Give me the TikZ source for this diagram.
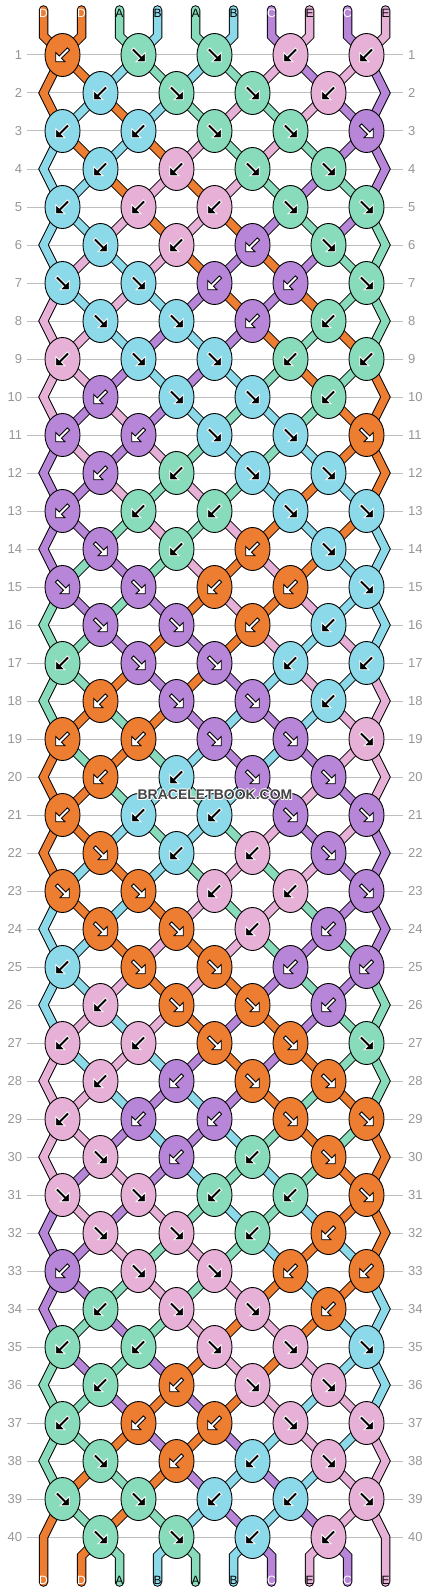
\documentclass[tikz,border=0pt]{standalone}
\usepackage{fontspec}
\setmainfont{Liberation Sans}
\usetikzlibrary{shapes.geometric,positioning}

\definecolor{colD}{RGB}{237,125,49}
\definecolor{colA}{RGB}{136,220,187}
\definecolor{colB}{RGB}{140,217,234}
\definecolor{colC}{RGB}{184,134,216}
\definecolor{colE}{RGB}{231,176,214}
\definecolor{rowgray}{RGB}{190,190,190}
\definecolor{numgray}{RGB}{150,150,150}
\definecolor{wmgray}{RGB}{68,68,68}

\tikzset{
  knot/.style={ellipse, draw=black, line width=0.9pt, minimum width=35pt, minimum height=43pt, inner sep=0pt},
  thread/.style={draw=black, line width=1pt, double=#1, double distance=7.5pt, line cap=round, line join=miter},
  arrowbody/.style={line width=0.8pt, line join=miter},
  arrD/.style={arrowbody, fill=white, draw=black},
  arrC/.style={arrowbody, fill=white, draw=black},
  arrA/.style={arrowbody, fill=black, draw=white},
  arrB/.style={arrowbody, fill=black, draw=white},
  arrE/.style={arrowbody, fill=black, draw=white},
  dirL/.style={rotate=-135},
  dirR/.style={rotate=-45},
  rowline/.style={draw=rowgray, line width=1pt},
  rownum/.style={text=numgray, font=\fontsize{13}{13}\selectfont, inner sep=0pt},
  lbl/.style={font=\fontsize{12}{12}\selectfont, inner sep=0pt},
  lblD/.style={lbl, text=white},
  lblC/.style={lbl, text=white},
  lblA/.style={lbl, text=black},
  lblB/.style={lbl, text=black},
  lblE/.style={lbl, text=black},
  wmark/.style={font=\bfseries\fontsize{14}{14}\selectfont, inner sep=0pt},
}

\begin{document}
\begin{tikzpicture}[x=1pt, y=-1pt]

\fill[white] (0,0) rectangle (430,1592);
\useasboundingbox (0,0) rectangle (430,1592);

% row lines and row numbers
\foreach \r in {1,...,40} {
  \coordinate (gl-\r) at (26.7, 17+38*\r);
  \coordinate (gr-\r) at (403.3, 17+38*\r);
  \draw[rowline] (gl-\r) -- (gr-\r);
  \node[rownum, left=4.5pt of gl-\r] (nl-\r) {\r};
  \node[rownum, right=4.7pt of gr-\r] (nr-\r) {\r};
}

% where each thread position sits in each row (knot centre or edge)
\foreach \r in {1,...,40}
  \foreach \j in {0,...,9} {
    \pgfmathsetmacro\xx{min(max(62.5+38*(\j-1+mod(\j+\r,2)), 43.5), 385.5)}
    \coordinate (s-\r-\j) at (\xx, 17+38*\r);
  }

% thread ends
\foreach \j in {0,...,9} {
  \coordinate (top-\j) at (43.5+38*\j, 10);
  \coordinate (bend-\j) at (43.5+38*\j, 36);
  \coordinate (foot-\j) at (43.5+38*\j, 1556);
  \coordinate (end-\j) at (43.5+38*\j, 1582);
}

% threads: start position / start slot / colour
\foreach \j/\st/\c in {0/0/D, 1/18/D, 2/2/A, 3/16/B, 4/4/A, 5/14/B, 6/6/C, 7/12/E, 8/8/C, 9/10/E}
  \draw[thread=col\c] (top-\j) -- (bend-\j)
    \foreach \r [evaluate=\r as \p using {int(9.5-abs(mod(\st+\r,20)-9.5))}] in {1,...,40} { -- (s-\r-\p) }
    -- (foot-\j) -- (end-\j);

% knots: thread colour / direction
\foreach \r/\row in {
  1/{D/L,A/R,A/R,E/L,E/L},
  2/{B/L,A/R,A/R,E/L},
  3/{B/L,B/L,A/R,A/R,C/R},
  4/{B/L,E/L,A/R,A/R},
  5/{B/L,E/L,E/L,A/R,A/R},
  6/{B/R,E/L,C/L,A/R},
  7/{B/R,B/R,C/L,C/L,A/R},
  8/{B/R,B/R,C/L,A/L},
  9/{E/L,B/R,B/R,A/L,A/L},
  10/{C/L,B/R,B/R,A/L},
  11/{C/L,C/L,B/R,B/R,D/R},
  12/{C/L,A/L,B/R,B/R},
  13/{C/L,A/L,A/L,B/R,B/R},
  14/{C/R,A/L,D/L,B/R},
  15/{C/R,C/R,D/L,D/L,B/R},
  16/{C/R,C/R,D/L,B/L},
  17/{A/L,C/R,C/R,B/L,B/L},
  18/{D/L,C/R,C/R,B/L},
  19/{D/L,D/L,C/R,C/R,E/R},
  20/{D/L,B/L,C/R,C/R},
  21/{D/L,B/L,B/L,C/R,C/R},
  22/{D/R,B/L,E/L,C/R},
  23/{D/R,D/R,E/L,E/L,C/R},
  24/{D/R,D/R,E/L,C/L},
  25/{B/L,D/R,D/R,C/L,C/L},
  26/{E/L,D/R,D/R,C/L},
  27/{E/L,E/L,D/R,D/R,A/R},
  28/{E/L,C/L,D/R,D/R},
  29/{E/L,C/L,C/L,D/R,D/R},
  30/{E/R,C/L,A/L,D/R},
  31/{E/R,E/R,A/L,A/L,D/R},
  32/{E/R,E/R,A/L,D/L},
  33/{C/L,E/R,E/R,D/L,D/L},
  34/{A/L,E/R,E/R,D/L},
  35/{A/L,A/L,E/R,E/R,B/R},
  36/{A/L,D/L,E/R,E/R},
  37/{A/L,D/L,D/L,E/R,E/R},
  38/{A/R,D/L,B/L,E/R},
  39/{A/R,A/R,B/L,B/L,E/R},
  40/{A/R,A/R,B/L,E/L}} {
  \foreach \c/\d [count=\n from 0] in \row {
    \pgfmathtruncatemacro\i{2*\n+1-mod(\r,2)}
    \node[knot, fill=col\c] (k-\r-\i) at (s-\r-\i) {};
    \draw[arr\c, shift={(k-\r-\i.center)}, dir\d]
      (-8.5,-1.6) -- (3,-1.6) -- (3,-6.5) -- (9.5,0) -- (3,6.5) -- (3,1.6) -- (-8.5,1.6) -- cycle;
  }
}

% thread letters, top and bottom
\foreach \j/\c in {0/D, 1/D, 2/A, 3/B, 4/A, 5/B, 6/C, 7/E, 8/C, 9/E} {
  \node[lbl\c] (lt-\j) at ([yshift=-3pt]top-\j) {\c};
  \node[lbl\c] (lb-\j) at ([yshift=2pt]end-\j) {\c};
}

% watermark
\coordinate (wmc) at (215,795);
\foreach \a in {0,45,...,315}
  \node[wmark, text=white] (wm-\a) at ([shift={(\a:0.9pt)}]wmc) {BRACELETBOOK.COM};
\node[wmark, text=wmgray] (wm) at (wmc) {BRACELETBOOK.COM};

\end{tikzpicture}
\end{document}
